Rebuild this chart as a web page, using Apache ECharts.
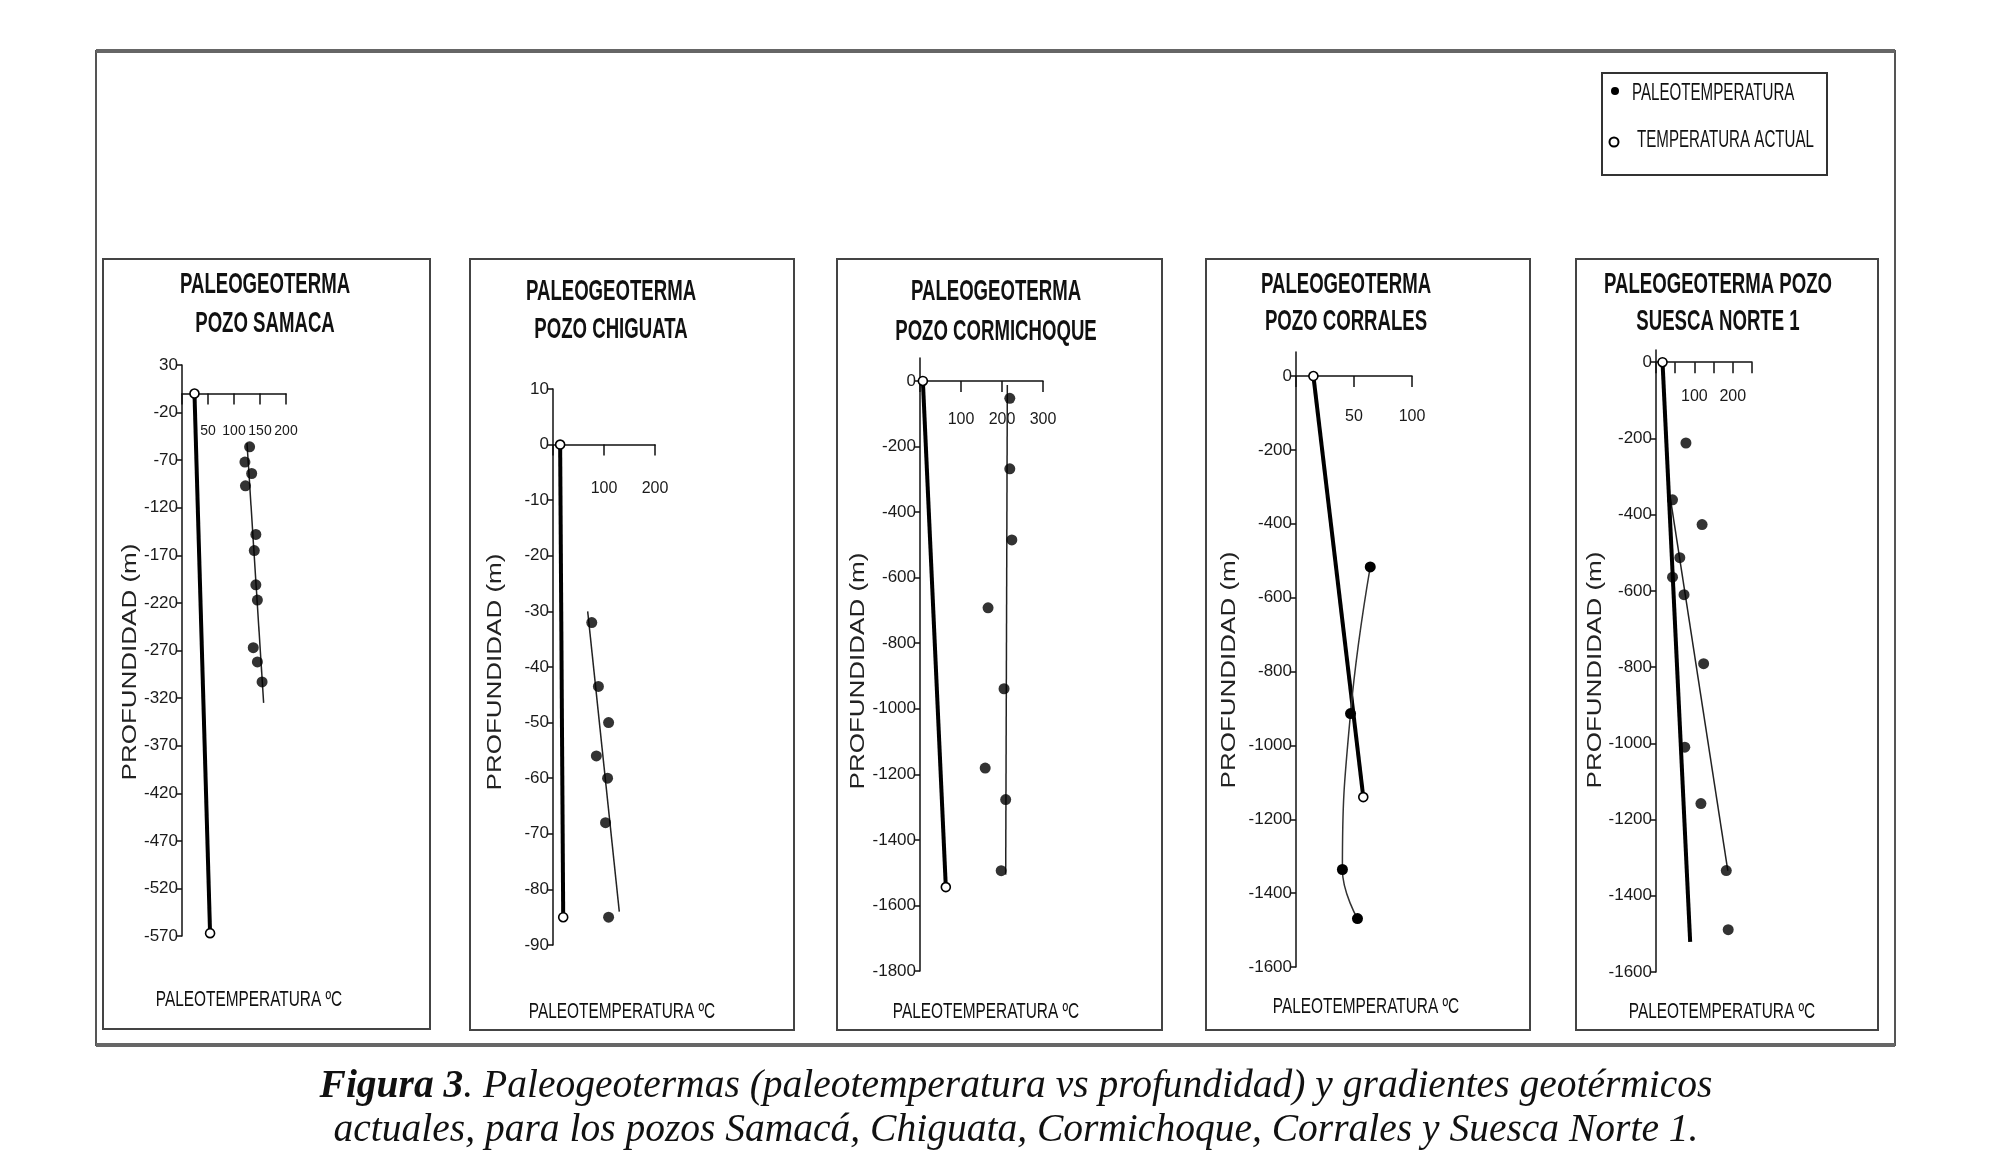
<!DOCTYPE html>
<html>
<head>
<meta charset="utf-8">
<script src="https://cdn.jsdelivr.net/npm/echarts@6/dist/echarts.min.js"></script>
<style>
html,body{margin:0;padding:0;background:#fff;}
#chart{width:2000px;height:1161px;}
</style>
</head>
<body>
<div id="chart"></div>
<script>
// ---------- DATA ----------
const panelTitles = [
  ['PALEOGEOTERMA', 'POZO SAMACA'],
  ['PALEOGEOTERMA', 'POZO CHIGUATA'],
  ['PALEOGEOTERMA', 'POZO CORMICHOQUE'],
  ['PALEOGEOTERMA', 'POZO CORRALES'],
  ['PALEOGEOTERMA POZO', 'SUESCA NORTE 1']
];
const xAxisName = 'PALEOTEMPERATURA ºC';
const yAxisName = 'PROFUNDIDAD (m)';
const legendNames = ['PALEOTEMPERATURA', 'TEMPERATURA ACTUAL'];
const captionBold = 'Figura 3';
const captionLine1 = '. Paleogeotermas (paleotemperatura vs profundidad) y gradientes geotérmicos';
const captionLine2 = 'actuales, para los pozos Samacá, Chiguata, Cormichoque, Corrales y Suesca Norte 1.';

// Samacá
const samacaPaleoTemp  = [130, 121, 134, 122, 142, 139, 142, 145, 137, 145, 154];
const samacaPaleoDepth = [-56, -72, -84, -97, -148, -165, -201, -217, -267, -282, -303];
const samacaActualTemp  = [24, 54];
const samacaActualDepth = [0, -567];
const samacaFitTemp  = [125, 157];
const samacaFitDepth = [-52, -325];
const samacaYTicks = [30, -20, -70, -120, -170, -220, -270, -320, -370, -420, -470, -520, -570];
const samacaXTicks = [0, 50, 100, 150, 200];
const samacaXLabels = [50, 100, 150, 200];

// Chiguata
const chiguataPaleoTemp  = [76, 89, 109, 85, 107, 103, 109];
const chiguataPaleoDepth = [-32, -43.5, -50, -56, -60, -68, -85];
const chiguataActualTemp  = [14, 20];
const chiguataActualDepth = [0, -85];
const chiguataFitTemp  = [68, 130];
const chiguataFitDepth = [-30, -84];
const chiguataYTicks = [10, 0, -10, -20, -30, -40, -50, -60, -70, -80, -90];
const chiguataXTicks = [0, 100, 200];
const chiguataXLabels = [100, 200];

// Cormichoque
const cormichoquePaleoTemp  = [219, 219, 224, 166, 205, 159, 209, 198];
const cormichoquePaleoDepth = [-53, -268, -485, -692, -939, -1181, -1277, -1494];
const cormichoqueActualTemp  = [7, 63];
const cormichoqueActualDepth = [0, -1544];
const cormichoqueFitTemp  = [213, 209];
const cormichoqueFitDepth = [-12, -1506];
const cormichoqueYTicks = [0, -200, -400, -600, -800, -1000, -1200, -1400, -1600, -1800];
const cormichoqueXTicks = [0, 100, 200, 300];
const cormichoqueXLabels = [100, 200, 300];

// Corrales
const corralesPaleoTemp  = [64, 47, 40, 53];
const corralesPaleoDepth = [-517, -914, -1336, -1469];
const corralesActualTemp  = [15, 58];
const corralesActualDepth = [0, -1140];
const corralesYTicks = [0, -200, -400, -600, -800, -1000, -1200, -1400, -1600];
const corralesXTicks = [0, 50, 100];
const corralesXLabels = [50, 100];

// Suesca Norte 1
const suescaPaleoTemp  = [78, 43, 120, 62, 43, 73, 124, 75, 117, 183, 188];
const suescaPaleoDepth = [-212, -361, -426, -513, -564, -610, -791, -1010, -1158, -1334, -1489];
const suescaActualTemp  = [17, 89];
const suescaActualDepth = [0, -1521];
const suescaFitTemp  = [37, 187];
const suescaFitDepth = [-354, -1334];
const suescaYTicks = [0, -200, -400, -600, -800, -1000, -1200, -1400, -1600];
const suescaXTicks = [0, 50, 100, 150, 200, 250];
const suescaXLabels = [100, 200];

// ---------- LAYOUT (styles / positions) ----------
const FONT = "'Liberation Sans', Arial, sans-serif";
const SERIF = "'Liberation Serif', 'Times New Roman', serif";
const panels = [
  { box:[103,259,327,770], grid:{left:182,top:365,width:104,height:571}, yMin:-570, yMax:30, xMax:200,
    yTicks:samacaYTicks, xTicks:samacaXTicks, xLabels:samacaXLabels, xLabelSize:14, xMargin:31,
    paleo:[samacaPaleoTemp, samacaPaleoDepth], actual:[samacaActualTemp, samacaActualDepth], fit:[samacaFitTemp, samacaFitDepth],
    titleX:265, titleY:[285,324], nameX:[249,1000], nameY:[130,662], actualEnd:true },
  { box:[470,259,324,771], grid:{left:553,top:389,width:102,height:556}, yMin:-90, yMax:10, xMax:200,
    yTicks:chiguataYTicks, xTicks:chiguataXTicks, xLabels:chiguataXLabels, xLabelSize:16, xMargin:36,
    paleo:[chiguataPaleoTemp, chiguataPaleoDepth], actual:[chiguataActualTemp, chiguataActualDepth], fit:[chiguataFitTemp, chiguataFitDepth],
    titleX:611, titleY:[292,330], nameX:[622,1012], nameY:[495,672], actualEnd:true },
  { box:[837,259,325,771], grid:{left:920,top:358,width:123,height:613}, yMin:-1800, yMax:70, xMax:300,
    yTicks:cormichoqueYTicks, xTicks:cormichoqueXTicks, xLabels:cormichoqueXLabels, xLabelSize:16, xMargin:31,
    paleo:[cormichoquePaleoTemp, cormichoquePaleoDepth], actual:[cormichoqueActualTemp, cormichoqueActualDepth], fit:[cormichoqueFitTemp, cormichoqueFitDepth],
    titleX:996, titleY:[292,332], nameX:[986,1012], nameY:[858,671], actualEnd:true },
  { box:[1206,259,324,771], grid:{left:1296,top:352,width:116,height:615}, yMin:-1600, yMax:65, xMax:100,
    yTicks:corralesYTicks, xTicks:corralesXTicks, xLabels:corralesXLabels, xLabelSize:16, xMargin:33,
    paleo:[corralesPaleoTemp, corralesPaleoDepth], actual:[corralesActualTemp, corralesActualDepth], fit:null,
    titleX:1346, titleY:[285,322], nameX:[1366,1007], nameY:[1229,670], actualEnd:true },
  { box:[1576,259,302,771], grid:{left:1656,top:350,width:96,height:622}, yMin:-1600, yMax:32, xMax:250,
    yTicks:suescaYTicks, xTicks:suescaXTicks, xLabels:suescaXLabels, xLabelSize:16, xMargin:26,
    paleo:[suescaPaleoTemp, suescaPaleoDepth], actual:[suescaActualTemp, suescaActualDepth], fit:[suescaFitTemp, suescaFitDepth],
    titleX:1718, titleY:[285,322], nameX:[1722,1012], nameY:[1595,670], actualEnd:false }
];

function pairs(xs, ys) { return xs.map((x, i) => [x, ys[i]]); }

const grids = [], xAxes = [], yAxes = [], series = [], graphics = [];

panels.forEach((p, i) => {
  grids.push(Object.assign({ containLabel:false }, p.grid));
  // distance from grid top to the depth = 0 line (axis placement only)
  const zeroOffset = p.grid.height * p.yMax / (p.yMax - p.yMin);
  xAxes.push({
    type:'value', gridIndex:i, min:0, max:p.xMax, position:'top', offset:-zeroOffset,
    axisLine:{ show:true, onZero:false, lineStyle:{ color:'#111', width:1.5 } },
    axisTick:{ show:true, inside:true, length:11, customValues:p.xTicks, lineStyle:{ color:'#111', width:1.5 } },
    axisLabel:{ inside:true, customValues:p.xLabels, margin:p.xMargin, fontSize:p.xLabelSize, fontFamily:FONT, color:'#1a1a1a',
                formatter:(v) => String(v) },
    splitLine:{ show:false }
  });
  yAxes.push({
    type:'value', gridIndex:i, min:p.yMin, max:p.yMax,
    axisLine:{ show:true, onZero:false, lineStyle:{ color:'#111', width:1.5 } },
    axisTick:{ show:true, length:5, customValues:p.yTicks, lineStyle:{ color:'#111', width:1.5 } },
    axisLabel:{ customValues:p.yTicks, margin:4, fontSize:17, fontFamily:FONT, color:'#1a1a1a',
                formatter:(v) => String(v) },
    splitLine:{ show:false }
  });

  const actualData = pairs(p.actual[0], p.actual[1]);
  if (!p.actualEnd) actualData[actualData.length - 1] = { value: actualData[actualData.length - 1], symbol:'none' };
  series.push({
    name: legendNames[1], type:'line', xAxisIndex:i, yAxisIndex:i, data: actualData,
    symbol:'circle', symbolSize:9, showSymbol:true, z:3,
    lineStyle:{ color:'#000', width:4 },
    itemStyle:{ color:'#fff', borderColor:'#000', borderWidth:1.6 },
    animation:false
  });
  if (p.fit) {
    series.push({
      name:'ajuste', type:'line', xAxisIndex:i, yAxisIndex:i, data: pairs(p.fit[0], p.fit[1]),
      symbol:'none', lineStyle:{ color:'#222', width:1.5 }, z:2, animation:false
    });
    series.push({
      name: legendNames[0], type:'scatter', xAxisIndex:i, yAxisIndex:i, data: pairs(p.paleo[0], p.paleo[1]),
      symbol:'circle', symbolSize:11, itemStyle:{ color:'#000' }, z:4, animation:false
    });
  } else {
    series.push({
      name: legendNames[0], type:'line', smooth:0.45, xAxisIndex:i, yAxisIndex:i, data: pairs(p.paleo[0], p.paleo[1]),
      symbol:'circle', symbolSize:11, showSymbol:true, itemStyle:{ color:'#000' },
      lineStyle:{ color:'#333', width:1.5 }, z:4, animation:false
    });
  }

  // panel frame
  graphics.push({ type:'rect', shape:{ x:p.box[0], y:p.box[1], width:p.box[2], height:p.box[3] },
                  style:{ fill:'none', stroke:'#444', lineWidth:2 }, z:-1 });
  // titles
  p.titleY.forEach((ty, k) => {
    graphics.push({ type:'text', x:p.titleX, y:ty, scaleX:0.62, scaleY:1,
      style:{ text:panelTitles[i][k], fontSize:30, fontWeight:'bold', fontFamily:FONT, fill:'#111',
              align:'center', verticalAlign:'middle' } });
  });
  // x axis name (bottom)
  graphics.push({ type:'text', x:p.nameX[0], y:p.nameX[1], scaleX:0.70,
    style:{ text:xAxisName, fontSize:22, fontFamily:FONT, fill:'#111', align:'center', verticalAlign:'middle' } });
  // y axis name (vertical)
  graphics.push({ type:'text', x:p.nameY[0], y:p.nameY[1], rotation:Math.PI/2, scaleX:1.3,
    style:{ text:yAxisName, fontSize:20, fontFamily:FONT, fill:'#222', align:'center', verticalAlign:'middle' } });
});

// outer frame
graphics.push({ type:'rect', shape:{ x:96, y:51, width:1799, height:994 }, style:{ fill:'none', stroke:'#555', lineWidth:2 }, z:-2 });
graphics.push({ type:'line', shape:{ x1:96, y1:51, x2:1895, y2:51 }, style:{ stroke:'#666', lineWidth:4 }, z:-2 });
graphics.push({ type:'line', shape:{ x1:96, y1:1045, x2:1895, y2:1045 }, style:{ stroke:'#666', lineWidth:4 }, z:-2 });

// legend
graphics.push({ type:'rect', shape:{ x:1602, y:73, width:225, height:102 }, style:{ fill:'#fff', stroke:'#333', lineWidth:2 } });
graphics.push({ type:'circle', shape:{ cx:1615, cy:91, r:4 }, style:{ fill:'#000' } });
graphics.push({ type:'circle', shape:{ cx:1614, cy:142, r:4.5 }, style:{ fill:'#fff', stroke:'#000', lineWidth:2 } });
graphics.push({ type:'text', x:1632, y:93, scaleX:0.63,
  style:{ text:legendNames[0], fontSize:24, fontFamily:FONT, fill:'#111', align:'left', verticalAlign:'middle' } });
graphics.push({ type:'text', x:1637, y:140, scaleX:0.63,
  style:{ text:legendNames[1], fontSize:24, fontFamily:FONT, fill:'#111', align:'left', verticalAlign:'middle' } });

// caption
graphics.push({ type:'text', x:1016, y:1087,
  style:{ text:'{b|' + captionBold + '}' + captionLine1, fontSize:39.5, fontStyle:'italic', fontFamily:SERIF, fill:'#111',
          align:'center', verticalAlign:'middle',
          rich:{ b:{ fontSize:39.5, fontStyle:'italic', fontWeight:'bold', fontFamily:SERIF, fill:'#111' } } } });
graphics.push({ type:'text', x:1016, y:1131,
  style:{ text:captionLine2, fontSize:39.5, fontStyle:'italic', fontFamily:SERIF, fill:'#111',
          align:'center', verticalAlign:'middle' } });

const chart = echarts.init(document.getElementById('chart'), null, { renderer:'canvas' });
chart.setOption({
  backgroundColor:'#fff',
  animation:false,
  grid: grids,
  xAxis: xAxes,
  yAxis: yAxes,
  series: series,
  graphic: { elements: graphics }
});
</script>
</body>
</html>
